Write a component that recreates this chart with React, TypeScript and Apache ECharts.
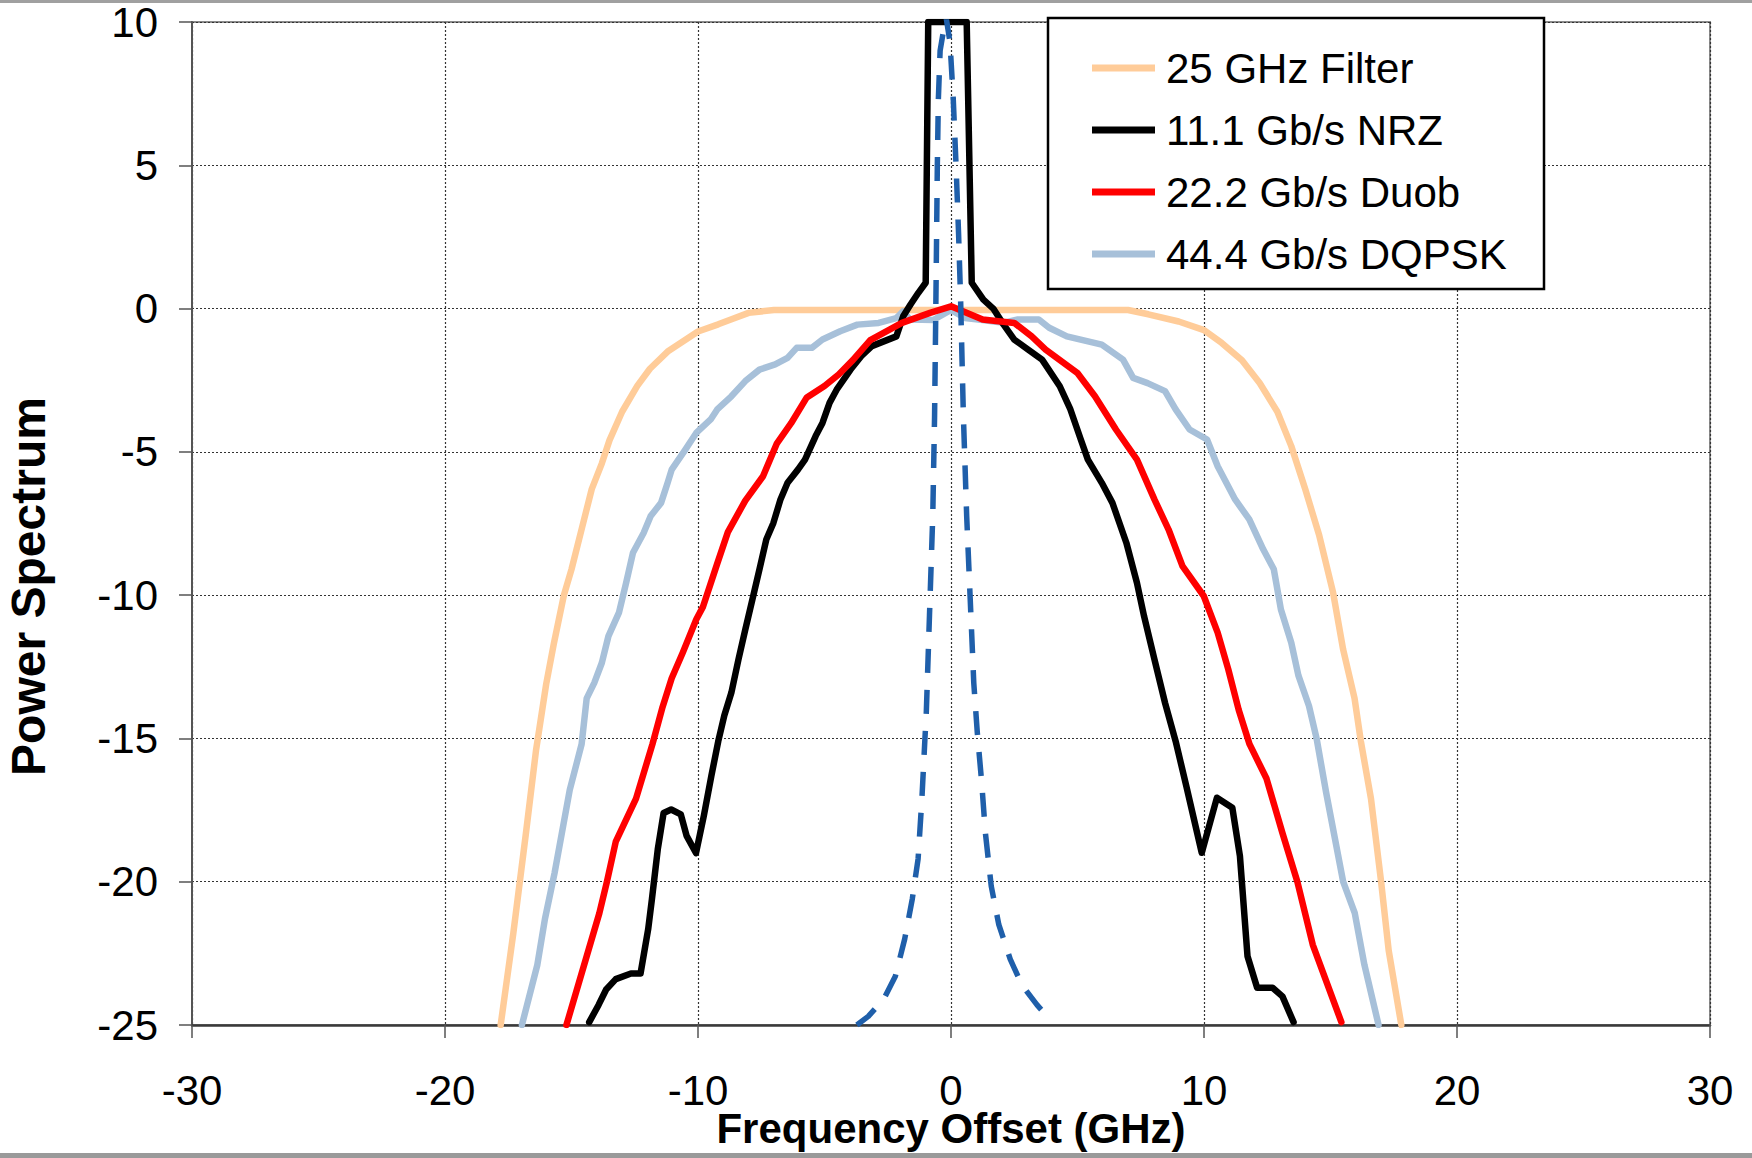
import React, { useEffect, useRef } from "react";
import * as echarts from "echarts";

const FONT = "'Liberation Sans', Arial, Helvetica, sans-serif";

const legendNames = ["25 GHz Filter", "11.1 Gb/s NRZ", "22.2 Gb/s Duob", "44.4 Gb/s DQPSK"];

// 25 GHz Filter
const filterX = [-17.8, -17.3, -16.8, -16.4, -16.0, -15.7, -15.3, -15.0, -14.6, -14.2, -13.8, -13.5, -13.0, -12.4, -11.9, -11.2, -10.6, -10.0, -9.2, -8.7, -8.0, -7.0, 7.0, 7.8, 9.0, 10.0, 10.7, 11.5, 12.2, 12.9, 13.45, 14.0, 14.55, 15.1, 15.5, 15.95, 16.2, 16.6, 17.0, 17.3, 17.8];
const filterY = [-25, -21.8, -18.3, -15.4, -13.1, -11.7, -10.0, -9.1, -7.7, -6.3, -5.4, -4.6, -3.6, -2.7, -2.1, -1.5, -1.15, -0.8, -0.55, -0.38, -0.15, -0.05, -0.05, -0.2, -0.45, -0.75, -1.2, -1.8, -2.6, -3.6, -4.8, -6.3, -7.9, -9.9, -11.9, -13.6, -15.1, -17.1, -20, -22.4, -25];

// 11.1 Gb/s NRZ
const nrzX = [-14.3, -13.93, -13.63, -13.25, -12.65, -12.27, -11.97, -11.82, -11.59, -11.36, -11.06, -10.68, -10.45, -10.08, -9.77, -9.47, -9.2, -8.96, -8.68, -8.4, -8.13, -7.85, -7.57, -7.3, -7.02, -6.74, -6.46, -6.05, -5.77, -5.35, -5.08, -4.8, -4.52, -3.97, -3.55, -3.13, -2.16, -1.89, -1.6, -1.29, -1.0, -0.9, 0.62, 0.82, 1.28, 1.67, 2.08, 2.5, 3.05, 3.6, 4.3, 4.72, 5.13, 5.41, 5.96, 6.38, 6.93, 7.35, 7.63, 8.04, 8.46, 8.88, 9.3, 9.91, 10.51, 11.12, 11.42, 11.72, 12.1, 12.71, 13.1, 13.54];
const nrzY = [-24.9, -24.3, -23.76, -23.4, -23.2, -23.2, -21.66, -20.6, -18.87, -17.6, -17.48, -17.65, -18.4, -19.0, -17.7, -16.3, -15.1, -14.2, -13.4, -12.24, -11.2, -10.15, -9.1, -8.06, -7.48, -6.66, -6.08, -5.62, -5.27, -4.45, -3.99, -3.29, -2.83, -2.13, -1.66, -1.31, -0.97, -0.27, 0.14, 0.55, 0.9, 10, 10, 0.9, 0.31, 0.0, -0.56, -1.08, -1.43, -1.78, -2.71, -3.52, -4.57, -5.27, -6.08, -6.78, -8.17, -9.57, -10.73, -12.24, -13.76, -15.1, -16.66, -18.99, -17.07, -17.42, -19.1, -22.6, -23.7, -23.7, -24.0, -24.9];

// 22.2 Gb/s Duob
const duobX = [-15.2, -14.4, -13.9, -13.6, -13.25, -12.45, -11.8, -11.4, -11.04, -10.6, -10.07, -9.8, -9.24, -8.82, -8.13, -7.43, -6.88, -6.32, -5.7, -5.0, -4.44, -3.88, -3.19, -1.94, -0.83, 0, 1.25, 2.5, 3.19, 3.74, 4.99, 5.69, 6.52, 7.35, 8.04, 8.6, 9.15, 9.99, 10.54, 10.96, 11.37, 11.8, 12.47, 13.1, 13.69, 14.3, 15.43];
const duobY = [-25, -22.6, -21.1, -20, -18.6, -17.1, -15.2, -13.9, -12.9, -12.0, -10.85, -10.4, -8.9, -7.8, -6.7, -5.85, -4.7, -4.0, -3.1, -2.7, -2.3, -1.8, -1.1, -0.5, -0.15, 0.08, -0.38, -0.5, -0.97, -1.43, -2.24, -3.06, -4.22, -5.27, -6.66, -7.71, -8.99, -10.03, -11.31, -12.59, -14.0, -15.2, -16.4, -18.3, -20, -22.2, -24.9];

// 44.4 Gb/s DQPSK
const dqpskX = [-16.96, -16.35, -16.05, -15.67, -15.07, -14.6, -14.4, -14.1, -13.8, -13.54, -13.12, -12.84, -12.57, -12.15, -11.87, -11.46, -11.2, -11.04, -10.5, -10.07, -9.5, -9.24, -8.68, -8.13, -7.57, -6.95, -6.46, -6.1, -5.5, -5.08, -4.38, -3.7, -2.86, -2.16, -1.9, -1.62, -0.7, 0, 0.55, 1.25, 2.08, 2.64, 3.47, 3.88, 4.58, 5.96, 6.8, 7.2, 7.77, 8.46, 8.88, 9.43, 10.12, 10.54, 11.23, 11.79, 12.34, 12.76, 13.04, 13.45, 13.73, 14.15, 14.45, 14.83, 15.5, 15.96, 16.34, 16.9];
const dqpskY = [-25, -22.9, -21.3, -19.7, -16.8, -15.2, -13.6, -13.06, -12.36, -11.43, -10.6, -9.57, -8.52, -7.83, -7.24, -6.78, -6.08, -5.62, -4.92, -4.34, -3.87, -3.52, -3.06, -2.53, -2.13, -1.95, -1.72, -1.37, -1.37, -1.08, -0.79, -0.56, -0.5, -0.33, -0.1, -0.38, -0.4, -0.05, -0.33, -0.4, -0.5, -0.38, -0.38, -0.67, -0.97, -1.26, -1.78, -2.42, -2.6, -2.88, -3.52, -4.22, -4.57, -5.5, -6.66, -7.36, -8.4, -9.1, -10.5, -11.66, -12.8, -13.87, -15.0, -16.9, -20, -21.1, -22.9, -25];

// unlabeled dashed curve
const dashX = [-3.72, -3.27, -2.66, -2.2, -1.83, -1.53, -1.3, -1.15, -1.03, -0.98, -0.85, -0.72, -0.65, -0.6, -0.54, -0.5, -0.43, -0.2, -0.04, 0.09, 0.2, 0.3, 0.38, 0.49, 0.62, 0.76, 0.9, 1.04, 1.21, 1.36, 1.59, 1.89, 2.34, 2.8, 3.4, 3.7];
const dashY = [-25, -24.7, -24.1, -23.3, -22.0, -20.6, -19.2, -17.1, -15.0, -14.2, -10.7, -7.2, -3.8, 0, 5.0, 7.3, 9.0, 10.2, 9.3, 7.3, 5.0, 2.6, 0.3, -3.76, -7.24, -10.15, -13.06, -14.8, -16.5, -18.3, -20.15, -21.5, -22.7, -23.6, -24.3, -24.6];

const pairs = (xs: number[], ys: number[]) => xs.map((x, i) => [x, ys[i]]);

function lineSeries(name: string, xs: number[], ys: number[], color: string, width: number, z: number, dash?: number[]) {
  return {
    name,
    type: "line",
    data: pairs(xs, ys),
    symbol: "none",
    showSymbol: false,
    z,
    itemStyle: { color },
    lineStyle: { color, width, type: dash ? dash : "solid", join: "round", cap: dash ? "butt" : "round" },
    emphasis: { disabled: true },
  };
}

export default function App() {
  const ref = useRef<HTMLDivElement>(null);
  useEffect(() => {
    const chart = echarts.init(ref.current!, null, { renderer: "svg" });
    chart.setOption({
      animation: false,
      backgroundColor: "#ffffff",
      textStyle: { fontFamily: FONT },
      grid: {
        left: 192,
        right: 42,
        top: 22,
        bottom: 133,
        show: true,
        borderColor: "#8a8a8a",
        borderWidth: 2,
        backgroundColor: "transparent",
        outerBoundsMode: "none",
      },
      legend: {
        data: legendNames,
        orient: "vertical",
        left: 1092,
        top: 44,
        padding: 0,
        itemWidth: 63,
        itemHeight: 7,
        itemGap: 14,
        icon: "rect",
        selectedMode: false,
        z: 10,
        textStyle: { fontSize: 42, color: "#000", fontFamily: FONT, lineHeight: 48, padding: [0, 0, 0, 6] },
      },
      xAxis: {
        type: "value",
        min: -30,
        max: 30,
        interval: 10,
        name: "Frequency Offset (GHz)",
        nameLocation: "middle",
        nameGap: 83,
        nameMoveOverlap: false,
        nameTextStyle: { fontSize: 42, fontWeight: "bold", color: "#000", fontFamily: FONT, lineHeight: 40 },
        axisLine: { show: true, onZero: false, lineStyle: { color: "#3a3a3a", width: 2.5 } },
        axisTick: { show: true, length: 13, lineStyle: { color: "#555", width: 1.5 } },
        axisLabel: { fontSize: 42, color: "#000", margin: 46, lineHeight: 38, fontFamily: FONT },
        splitLine: { show: true, lineStyle: { type: [2, 2], color: "#333", width: 1.2 } },
      },
      yAxis: {
        type: "value",
        min: -25,
        max: 10,
        interval: 5,
        name: "Power Spectrum",
        nameLocation: "middle",
        nameRotate: 90,
        nameGap: 140,
        nameTextStyle: {
          fontSize: 48,
          fontWeight: "bold",
          color: "#000",
          fontFamily: FONT,
          padding: [0, 126, 0, 0],
        },
        axisLine: { show: true, onZero: false, lineStyle: { color: "#555", width: 2 } },
        axisTick: { show: true, length: 13, lineStyle: { color: "#555", width: 1.5 } },
        axisLabel: { fontSize: 42, color: "#000", margin: 34, fontFamily: FONT },
        splitLine: { show: true, lineStyle: { type: [2, 2], color: "#333", width: 1.2 } },
      },
      graphic: {
        elements: [
          {
            type: "rect",
            z: 3,
            shape: { x: 1048, y: 18, width: 496, height: 271 },
            style: { fill: "#ffffff", stroke: "#000", lineWidth: 2.5 },
          },
          { type: "rect", z: 20, shape: { x: 0, y: 0, width: 1752, height: 3 }, style: { fill: "#a0a0a0" } },
          { type: "rect", z: 20, shape: { x: 0, y: 1153, width: 1752, height: 5 }, style: { fill: "#9a9a9a" } },
        ],
      },
      series: [
        lineSeries(legendNames[0], filterX, filterY, "#FFCC99", 6.5, 2),
        lineSeries(legendNames[3], dqpskX, dqpskY, "#A7C0D9", 6.5, 3),
        lineSeries(legendNames[1], nrzX, nrzY, "#000000", 6.5, 4),
        lineSeries(legendNames[2], duobX, duobY, "#FF0000", 6.5, 5),
        lineSeries("dashed", dashX, dashY, "#1F5FAA", 5.5, 6, [24, 17]),
      ],
    });
    return () => chart.dispose();
  }, []);
  return (
    <div
      ref={ref}
      style={{ position: "fixed", left: 0, top: 0, width: 1752, height: 1158, background: "#fff" }}
    />
  );
}
